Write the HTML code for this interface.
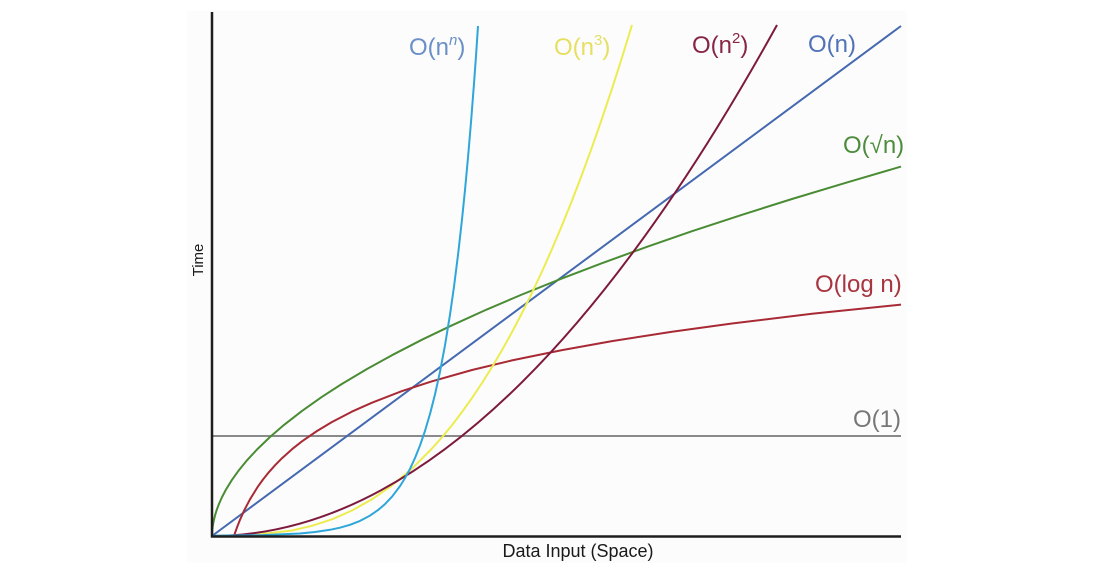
<!DOCTYPE html>
<html>
<head>
<meta charset="utf-8">
<style>
  html, body { margin:0; padding:0; background:#ffffff; }
  body { width:1100px; height:571px; overflow:hidden; }
  svg { display:block; }
  text { font-family: "Liberation Sans", "DejaVu Sans", sans-serif; }
</style>
</head>
<body>
<svg width="1100" height="571" viewBox="0 0 1100 571" xmlns="http://www.w3.org/2000/svg">
  <rect x="0" y="0" width="1100" height="571" fill="#ffffff"/>
  <rect x="187" y="11" width="720" height="552" fill="#fcfcfc"/>

  <!-- O(1) -->
  <line x1="212" y1="436" x2="901" y2="436" stroke="#8a8a8a" stroke-width="2"/>

  <!-- O(n) -->
  <line x1="212" y1="536" x2="901" y2="26" stroke="#4569b0" stroke-width="2"/>

  <!-- O(sqrt n) -->
  <polyline fill="none" stroke="#4a8c34" stroke-width="2" stroke-linejoin="round"
    points="212,536 212.1,532.6 212.5,528.1 213,524.6 214,519.5 215.5,513.8 217,509.1 219,503.9 222,497.1 226,489.5 232,479.8 239,470.1 247,460.3 257,449.5 270,437 284,424.9 302,410.9 322,396.8 342,383.9 367,369 392,355.2 422,339.7 452,325.3 487,309.4 522,294.5 562,278.4 602,263.2 647,246.8 692,231.2 742,214.8 792,199 847,182.4 901,166.6"/>

  <!-- O(log n) -->
  <polyline fill="none" stroke="#a82a35" stroke-width="2" stroke-linejoin="round"
    points="234,536 235,533 237,527.4 240,519.8 244,510.8 250,499.3 258,486.4 263,479.5 268,473.2 275,465.3 282,458.2 292,449.2 302,441.3 317,431 332,422 352,411.6 372,402.7 402,391.1 432,381.3 472,370 512,360.4 562,350.1 612,341.1 672,331.7 732,323.5 812,313.8 901,304.6"/>

  <!-- O(n^3) -->
  <polyline fill="none" stroke="#ecec50" stroke-width="2" stroke-linejoin="round"
    points="212,536 252,535.2 292,530.5 312,525.8 332,519.3 352,510.5 372,499.3 392,485.4 412,468.6 432,448.5 442,437.3 452,425.1 462,412 472,398 482,383 492,367.1 502,350.1 512,332.1 522,313 532,292.8 542,271.5 552,249 562,225.4 572,200.6 582,174.5 592,147.2 602,118.6 612,88.7 622,57.5 632,25"/>

  <!-- O(n^2) -->
  <path d="M212,536 Q494.5,536 777,25" fill="none" stroke="#7d1a3c" stroke-width="2"/>

  <!-- O(n^n) -->
  <polyline fill="none" stroke="#2ea6d9" stroke-width="2" stroke-linejoin="round"
    points="212,535.8 260,535.2 300,533.5 315,532 330,529.8 340,527.7 350,524.8 360,520.9 370,515.6 378,510.1 385,504.1 392,496.7 400,486.1 405,478.1 410,468.8 415,458 420,445.5 425,430.9 430,414 435,394.4 440,371.7 445,345.3 450,314.7 454,286.6 458,255 462,219.5 465,190 468,157.5 471,122.2 474,83.5 476,56 478,26"/>

  <!-- Axes -->
  <line x1="212" y1="12" x2="212" y2="537.5" stroke="#1e1e1e" stroke-width="2.5"/>
  <line x1="211" y1="536.5" x2="901" y2="536.5" stroke="#1e1e1e" stroke-width="2.5"/>

  <!-- Axis labels -->
  <text x="578" y="557" font-size="18" fill="#1a1a1a" text-anchor="middle">Data Input (Space)</text>
  <text x="0" y="0" font-size="15" fill="#1a1a1a" text-anchor="middle" transform="translate(203,260) rotate(-90)">Time</text>

  <!-- Series labels -->
  <text x="409" y="55" font-size="24" fill="#6a8fc8">O(n<tspan font-size="15" dy="-10" font-style="italic">n</tspan><tspan dy="10">)</tspan></text>
  <text x="554" y="55" font-size="24" fill="#e6df62">O(n<tspan font-size="15" dy="-10">3</tspan><tspan dy="10">)</tspan></text>
  <text x="692" y="53" font-size="24" fill="#862644">O(n<tspan font-size="15" dy="-10">2</tspan><tspan dy="10">)</tspan></text>
  <text x="808" y="52" font-size="24" fill="#4f72b8">O(n)</text>
  <text x="843" y="153" font-size="24" fill="#4c8c3c">O(√n)</text>
  <text x="815" y="292" font-size="24" fill="#a83540">O(log n)</text>
  <text x="853" y="427" font-size="24" fill="#777777">O(1)</text>
</svg>
</body>
</html>
